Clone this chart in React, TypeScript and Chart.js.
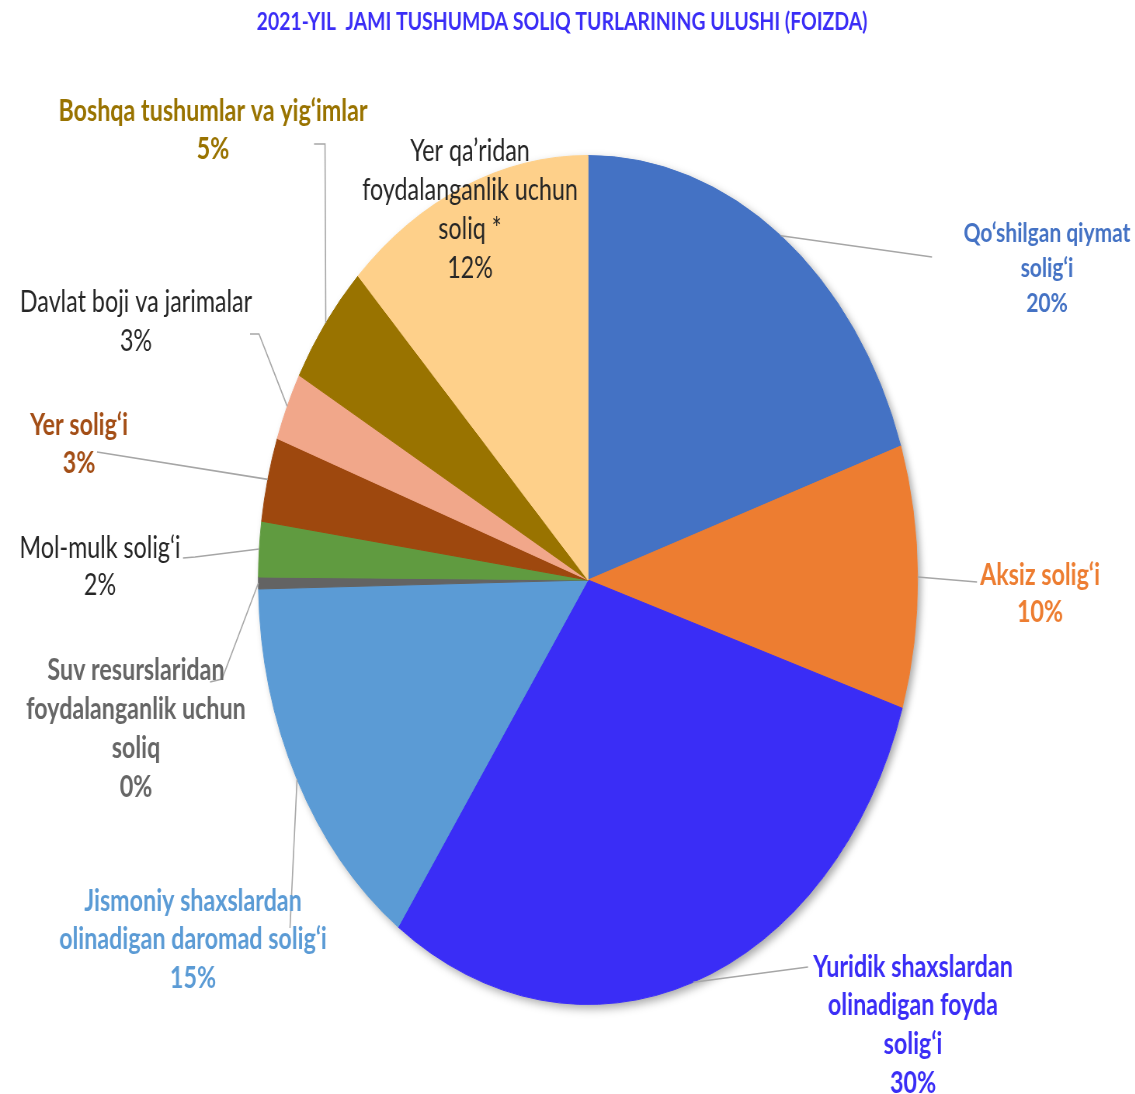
import React, { useEffect, useRef } from "react";
import { Chart, registerables } from "chart.js";

Chart.register(...registerables);

// The reference picture is squeezed horizontally: the pie is an ellipse 330 x 425.
const S = 330 / 425;
const W = 1135;
const H = 1094;
const LW = Math.round(W / S);

const titleText = "2021-YIL  JAMI TUSHUMDA SOLIQ TURLARINING ULUSHI (FOIZDA)";

const labelLines: string[][] = [
  ["Qo‘shilgan qiymat", "solig‘i"],
  ["Aksiz solig‘i"],
  ["Yuridik shaxslardan", "olinadigan foyda", "solig‘i"],
  ["Jismoniy shaxslardan", "olinadigan daromad solig‘i"],
  ["Suv resurslaridan", "foydalanganlik uchun", "soliq"],
  ["Mol-mulk solig‘i"],
  ["Yer solig‘i"],
  ["Davlat boji va jarimalar"],
  ["Boshqa tushumlar va yig‘imlar"],
  ["Yer qa’ridan", "foydalanganlik uchun", "soliq *"],
];
const categories = labelLines.map((l) => l.join(" "));
const shares = [19.9, 10.0, 29.9, 14.9, 0.45, 2.1, 3.2, 2.6, 4.7, 12.3];

const sliceColors = [
  "#4472C4", "#ED7D31", "#3A2DF6", "#5B9BD5", "#636363",
  "#609B40", "#9E480E", "#F1A78A", "#997300", "#FED08A",
];
const labelColors = [
  "#4472C4", "#ED7D31", "#3A2DF6", "#5B9BD5", "#666666",
  "#262626", "#A34E16", "#262626", "#997300", "#262626",
];
const labelBold = [true, true, true, true, true, false, true, false, true, false];
const labelSize = [27, 30, 30, 30, 30, 30, 30, 30, 30, 30];

// label layout (reference pixels): centre x, first line centre y, line step
const labelPos: [number, number, number][] = [
  [1047, 233, 35], [1040, 575, 37], [913, 967, 38.7], [193, 901, 38.5], [136, 670, 39],
  [100, 548, 37], [79, 425, 38], [136, 302, 39], [213, 111, 38], [470, 151, 39],
];
// leader polylines after the slice-edge point (reference pixels)
const leaderPts: [number, number][][] = [
  [[932, 257]], [[977, 582]], [[808, 967]], [[290, 928]], [[222, 679], [210, 682]],
  [[195, 557], [183, 558]], [[97, 452]], [[259, 334], [250, 334]], [[325, 144], [314, 144]], [],
];

const FONT = "Lato, 'Open Sans', sans-serif";
const TITLE_SIZE = 25;

const decor = {
  id: "decor",
  beforeDatasetsDraw(chart: any) {
    const arc = chart.getDatasetMeta(0).data[0];
    if (!arc) return;
    const ctx = chart.ctx;
    ctx.save();
    ctx.shadowColor = "rgba(0,0,0,0.35)";
    ctx.shadowBlur = 10;
    ctx.shadowOffsetX = 4;
    ctx.shadowOffsetY = 4;
    ctx.fillStyle = "#ffffff";
    ctx.beginPath();
    ctx.arc(arc.x, arc.y, arc.outerRadius, 0, Math.PI * 2);
    ctx.fill();
    ctx.restore();
  },
  afterDraw(chart: any) {
    const ctx = chart.ctx;
    const meta = chart.getDatasetMeta(0);
    const total = shares.reduce((a, b) => a + b, 0);
    ctx.save();
    // title
    ctx.fillStyle = "#3A2DF6";
    ctx.font = `bold ${TITLE_SIZE}px ${FONT}`;
    ctx.textAlign = "center";
    ctx.textBaseline = "middle";
    ctx.fillText(titleText, 562 / S, 22);

    meta.data.forEach((el: any, i: number) => {
      const p = el.getProps(["x", "y", "startAngle", "endAngle", "outerRadius"], true);
      const mid = (p.startAngle + p.endAngle) / 2;
      const ex = p.x + Math.cos(mid) * p.outerRadius;
      const ey = p.y + Math.sin(mid) * p.outerRadius;
      const pts = leaderPts[i];
      if (pts.length) {
        ctx.strokeStyle = "#A6A6A6";
        ctx.lineWidth = 1.6;
        ctx.beginPath();
        ctx.moveTo(ex, ey);
        pts.forEach(([x, y]) => ctx.lineTo(x / S, y));
        ctx.stroke();
      }
      const [cx, cy, step] = labelPos[i];
      const lines = [...labelLines[i], `${Math.round((shares[i] / total) * 100)}%`];
      ctx.fillStyle = labelColors[i];
      ctx.font = `${labelBold[i] ? "bold " : ""}${labelSize[i]}px ${FONT}`;
      lines.forEach((t, k) => ctx.fillText(t, cx / S, cy + k * step));
    });
    ctx.restore();
  },
};

export default function App() {
  const ref = useRef<HTMLCanvasElement | null>(null);
  useEffect(() => {
    const canvas = ref.current;
    if (!canvas) return;
    const cx = 588 / S;
    const r = 425;
    const chart = new Chart(canvas, {
      type: "pie",
      data: {
        labels: categories,
        datasets: [
          {
            data: shares,
            backgroundColor: sliceColors,
            borderColor: sliceColors,
            borderWidth: 1,
          },
        ],
      },
      options: {
        responsive: false,
        animation: false,
        events: [],
        layout: {
          padding: { left: cx - r, right: LW - (cx + r), top: 155, bottom: H - 1005 },
        },
        plugins: {
          legend: { display: false },
          tooltip: { enabled: false },
          title: { display: false },
        },
      },
      plugins: [decor],
    });
    return () => chart.destroy();
  }, []);

  return (
    <div
      style={{
        position: "absolute",
        left: 0,
        top: 0,
        width: W,
        height: H,
        overflow: "hidden",
        background: "#ffffff",
      }}
    >
      <canvas
        ref={ref}
        width={LW}
        height={H}
        style={{
          width: LW,
          height: H,
          transform: `scaleX(${S})`,
          transformOrigin: "0 0",
          display: "block",
        }}
      />
    </div>
  );
}
